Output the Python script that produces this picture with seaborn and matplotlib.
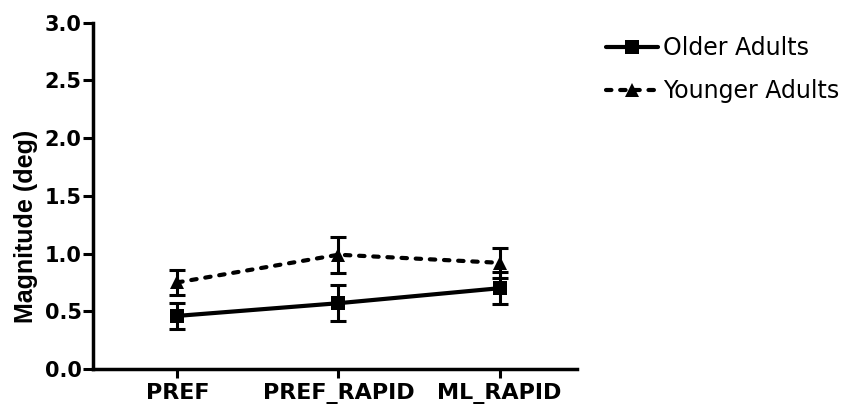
import matplotlib
matplotlib.use("Agg")
import matplotlib.pyplot as plt
import numpy as np
import pandas as pd
import seaborn as sns

# Mean sway magnitude per condition with error bar half-widths
conditions = ["PREF", "PREF_RAPID", "ML_RAPID"]
groups = ["Older Adults", "Younger Adults"]
older_mean = [0.46, 0.57, 0.70]
older_err = [0.11, 0.155, 0.14]
younger_mean = [0.75, 0.99, 0.92]
younger_err = [0.105, 0.155, 0.13]
y_ticks = [0.0, 0.5, 1.0, 1.5, 2.0, 2.5, 3.0]

sns.set_theme(style="ticks")
plt.rcParams["font.family"] = ["DejaVu Sans"]
plt.rcParams["text.color"] = "black"
plt.rcParams["axes.labelcolor"] = "black"

df = pd.DataFrame({
    "condition": conditions * 2,
    "magnitude": older_mean + younger_mean,
    "group": [groups[0]] * len(conditions) + [groups[1]] * len(conditions),
})

W, H = 847, 411
fig = plt.figure(figsize=(W / 100, H / 100), dpi=100)
x0, x1, y0, y1 = 92.7, 577, 22.7, 369
ax = fig.add_axes([x0 / W, 1 - y1 / H, (x1 - x0) / W, (y1 - y0) / H])

sns.lineplot(
    data=df, x="condition", y="magnitude", hue="group", style="group",
    palette=["black", "black"], markers=["s", "^"],
    dashes=["", (1.3, 2.1)], markersize=9.5, linewidth=3.0,
    markeredgewidth=0, sort=False, ax=ax,
)
for line in ax.get_lines():
    line.set_dash_capstyle("round")

xpos = np.arange(len(conditions))
for mean, err in [(older_mean, older_err), (younger_mean, younger_err)]:
    ax.errorbar(xpos, mean, yerr=err, fmt="none", ecolor="black",
                elinewidth=2.2, capsize=6, capthick=2.2, zorder=3)

ax.set_xlim(-0.525, 2.48)
ax.set_ylim(0, 3.0)
ax.set_yticks(y_ticks)
ax.set_yticklabels([f"{v:.1f}" for v in y_ticks])
ax.set_xticks(xpos)
ax.set_xticklabels(conditions)
ax.set_xlabel("")
ax.set_ylabel("Magnitude (deg)", fontsize=18, fontweight="bold",
              color="black", family=["Liberation Sans", "DejaVu Sans"])
ax.yaxis.set_label_coords(-0.112, 0.413)

sns.despine(ax=ax)
for side in ["left", "bottom"]:
    ax.spines[side].set_linewidth(2.5)
    ax.spines[side].set_color("black")
ax.tick_params(axis="y", length=7, width=2.2, pad=1, labelsize=15,
               colors="black")
ax.tick_params(axis="x", length=6.5, width=2.2, pad=3.5, labelsize=16,
               colors="black")
for lbl in ax.get_xticklabels() + ax.get_yticklabels():
    lbl.set_fontweight("bold")

handles, labels = ax.get_legend_handles_labels()
leg = ax.legend(handles, labels, loc="upper left",
                bbox_to_anchor=(606 / W, 1 - 36 / H),
                bbox_transform=fig.transFigure, frameon=False,
                fontsize=17, handlelength=2.2, handletextpad=0.2,
                borderpad=0, borderaxespad=0, labelspacing=0.8)
for h in leg.legend_handles:
    h.set_linewidth(3.0)
    h.set_markersize(9.5)
    h.set_color("black")
    h.set_dash_capstyle("round")
for t in leg.get_texts():
    t.set_color("black")

fig.savefig("out.png", dpi=100)
